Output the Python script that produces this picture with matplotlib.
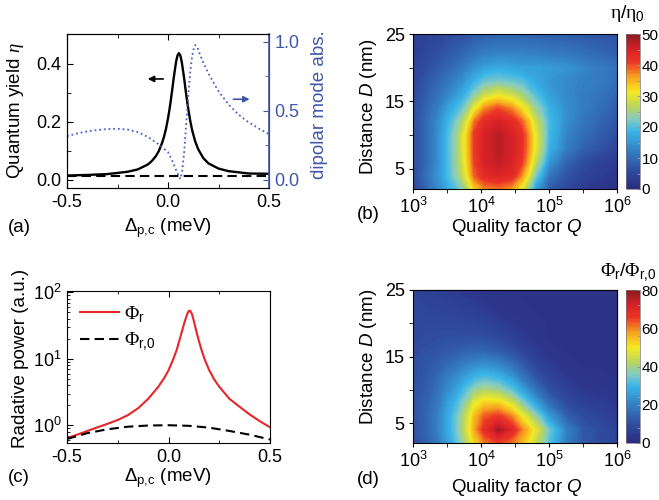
import matplotlib
matplotlib.use("Agg")
import matplotlib.pyplot as plt
import numpy as np
from matplotlib.colors import LinearSegmentedColormap
from matplotlib.ticker import FixedLocator, NullFormatter, LogLocator

plt.rcParams["font.family"] = ["Liberation Sans", "DejaVu Sans"]
plt.rcParams["mathtext.fontset"] = "custom"
plt.rcParams["mathtext.rm"] = "Liberation Sans"
plt.rcParams["mathtext.it"] = "Liberation Sans:italic"
plt.rcParams["mathtext.cal"] = "Liberation Serif"
plt.rcParams["mathtext.tt"] = "Liberation Serif:italic"

# ---------- (a) quantum yield vs detuning ----------
eta_x = [-0.5, -0.4, -0.3, -0.2, -0.15, -0.1, -0.08, -0.06, -0.045, -0.03, -0.02, -0.01,
         0.0, 0.005, 0.01, 0.015, 0.02, 0.03, 0.04, 0.047, 0.054, 0.061, 0.068, 0.078,
         0.083, 0.09, 0.095, 0.1, 0.11, 0.12, 0.135, 0.15, 0.175, 0.2, 0.25, 0.3, 0.4, 0.5]
eta = [0.015, 0.017, 0.020, 0.028, 0.036, 0.053, 0.065, 0.082, 0.100, 0.126, 0.148, 0.176,
       0.212, 0.233, 0.255, 0.280, 0.306, 0.360, 0.407, 0.429, 0.437, 0.429, 0.407, 0.360,
       0.333, 0.295, 0.270, 0.246, 0.204, 0.170, 0.132, 0.105, 0.075, 0.057, 0.039, 0.030,
       0.022, 0.021]
eta0_x = [-0.5, -0.25, 0.0, 0.25, 0.5]
eta0 = [0.012, 0.012, 0.012, 0.012, 0.012]
abs_x = [-0.5, -0.45, -0.4, -0.35, -0.3, -0.25, -0.2, -0.15, -0.1, -0.05, 0.0, 0.02, 0.04,
         0.055, 0.062, 0.07, 0.08, 0.09, 0.1, 0.11, 0.12, 0.13, 0.135, 0.145, 0.16, 0.18,
         0.2, 0.25, 0.3, 0.35, 0.4, 0.45, 0.5]
dip_abs = [0.315, 0.335, 0.35, 0.36, 0.367, 0.369, 0.363, 0.345, 0.31, 0.26, 0.2, 0.14, 0.07,
           0.02, 0.005, 0.06, 0.2, 0.4, 0.6, 0.78, 0.9, 0.965, 0.975, 0.96, 0.9, 0.83,
           0.77, 0.64, 0.545, 0.47, 0.415, 0.37, 0.33]

# ---------- (c) radiative power ----------
phi_x = [-0.5, -0.45, -0.4, -0.35, -0.3, -0.25, -0.2, -0.15, -0.1, -0.05, -0.02, 0.0, 0.02,
         0.04, 0.055, 0.07, 0.08, 0.09, 0.095, 0.1, 0.105, 0.11, 0.115, 0.12, 0.13, 0.14,
         0.15, 0.163, 0.18, 0.2, 0.225, 0.25, 0.3, 0.35, 0.4, 0.45, 0.5]
phi_r = [0.64, 0.72, 0.82, 0.93, 1.05, 1.2, 1.42, 1.8, 2.5, 3.8, 5.2, 6.7, 9.3,
         13.5, 19.5, 28.5, 36.5, 45, 49.5, 52.5, 53, 51, 47.5, 42.5, 32, 24,
         18.5, 13.5, 9.5, 6.8, 4.9, 3.8, 2.5, 1.9, 1.45, 1.15, 0.93]
phi0_x = [-0.5, -0.4, -0.3, -0.2, -0.1, 0.0, 0.1, 0.2, 0.3, 0.4, 0.5]
phi_r0 = [0.62, 0.76, 0.87, 0.95, 0.99, 1.0, 0.98, 0.92, 0.82, 0.72, 0.61]

# ---------- (b), (d) maps over log10(Q) and D ----------
logQ = [3.0, 3.25, 3.5, 3.75, 3.9, 4.05, 4.25, 4.45, 4.6, 4.8, 5.0, 5.25, 5.5, 5.75, 6.0]
dist = [2, 4, 6, 8, 10, 12, 14, 16, 18, 20, 22, 25]
eta_ratio = [
    [5, 11, 17, 24, 33, 37, 38, 36, 30, 16, 8, 5, 3, 2, 1.5],
    [6, 12, 19, 28.5, 39, 43, 44.5, 43, 37, 22, 11, 7, 4.5, 3, 2],
    [6, 11, 19, 30, 40.5, 45, 46.5, 45, 41, 27, 15, 9, 6, 4, 3],
    [6, 11, 19, 30.5, 41, 45, 47, 45, 42, 30, 18, 12, 8.5, 6.5, 5],
    [6, 11, 19, 30.5, 41, 45, 47, 45, 42, 30, 19, 13, 10, 8, 6],
    [6, 11, 18, 27, 38, 43, 45, 43, 39, 28, 19, 14, 11, 9, 7],
    [6, 10, 16, 22, 30, 37, 40, 37, 32, 24, 18, 14, 12, 10, 8],
    [5.5, 9, 13, 18, 23, 27.5, 30, 28, 25, 20, 16, 13.5, 12, 11, 9],
    [5, 8, 11, 15, 18, 21, 22, 21, 20, 17, 15, 13.5, 12.5, 12, 10],
    [4.5, 6.5, 9, 12, 14.5, 16, 17, 16.5, 16, 16, 15.5, 15, 13, 12, 10.5],
    [4, 5.5, 7.5, 9.5, 11, 12.5, 13, 13, 13, 12.5, 12, 11.5, 10.5, 9.5, 8.5],
    [3.5, 4.5, 5.5, 6.5, 7.5, 8, 8.5, 8.5, 8.5, 8.5, 8, 8, 7.5, 7, 6.5],
]
phi_ratio = [
    [10, 15, 25, 40, 52, 60, 65, 61, 55, 44, 32, 19, 12, 9, 7],
    [11, 16, 27, 43, 57, 68, 77, 70, 60, 48, 34, 20, 12, 9, 7],
    [11, 16, 27, 42, 55, 63, 66, 60, 50, 38, 25, 14, 9, 7, 5],
    [11, 15, 25, 37, 48, 53, 53, 46, 37, 26, 16, 9, 6, 5, 4],
    [10, 14, 22, 31, 38, 41, 39, 33, 26, 17, 10, 6, 4, 3.5, 3],
    [10, 13, 19, 25, 29, 31, 29, 24, 18, 11, 7, 4, 3, 3, 2.5],
    [10, 12, 15, 19, 21, 22, 20, 16, 12, 7, 4.5, 3, 2.5, 2.5, 2.5],
    [9.5, 10.5, 12, 13.5, 14, 14, 12.5, 10, 7, 4.5, 3, 2.5, 2.5, 2.5, 2.5],
    [9, 9.5, 10, 10, 10, 9.5, 8, 6, 4.5, 3.5, 2.5, 2.5, 2.5, 2.5, 2.5],
    [8.5, 8.5, 8.5, 8, 7.5, 7, 5.5, 4, 3.5, 3, 2.5, 2.5, 2.5, 2.5, 2.5],
    [8, 7.5, 7, 6, 5.5, 4.5, 3.5, 3, 3, 2.5, 2.5, 2.5, 2.5, 2.5, 2.5],
    [7, 6, 5, 4, 3.5, 3, 3, 2.5, 2.5, 2.5, 2.5, 2.5, 2.5, 2.5, 2.5],
]

BLUE = "#3f57a8"
cmap = LinearSegmentedColormap.from_list("origin_rainbow", [
    (0.0, "#2b2b80"), (0.12, "#2f4da0"), (0.25, "#3480c5"), (0.37, "#38b5e8"),
    (0.45, "#84cbc3"), (0.53, "#b8d660"), (0.625, "#f5ea22"), (0.72, "#f7a51e"),
    (0.82, "#ec3626"), (0.9, "#d92127"), (1.0, "#8a1b1e")])

W, H = 659, 500
fig = plt.figure(figsize=(W / 100, H / 100), dpi=100)

TICK = 13
LABEL = 13.5


def box(l, t, r, b):
    return [l / W, 1 - b / H, (r - l) / W, (b - t) / H]


def ftext(x, y, s, **kw):
    kw.setdefault("ha", "center")
    kw.setdefault("va", "center")
    kw.setdefault("fontsize", LABEL)
    fig.text(x / W, 1 - y / H, s, **kw)


# (a)
ax = fig.add_axes(box(67, 34, 269, 188))
ax.plot(eta_x, eta, color="k", lw=1.7)
ax.plot(eta0_x, eta0, color="k", lw=1.5, ls=(0, (4.5, 2.5)))
ax.set_xlim(-0.5, 0.5)
ax.set_ylim(-0.028, 0.503)
ax.set_xticks([-0.5, 0.0, 0.5])
ax.set_xticks([-0.25, 0.25], minor=True)
ax.set_yticks([0.0, 0.2, 0.4])
ax.set_yticks([0.1, 0.3], minor=True)
ax.tick_params(which="both", direction="in", top=True, labelsize=TICK, pad=4)
ax.tick_params(which="major", length=4)
ax.tick_params(which="minor", length=3)
ax.annotate("", xy=(-0.114, 0.348), xytext=(-0.01, 0.348),
            arrowprops=dict(arrowstyle="-|>", color="k", lw=1.2, mutation_scale=9))
ax.annotate("", xy=(0.418, 0.278), xytext=(0.31, 0.278),
            arrowprops=dict(arrowstyle="-|>", color=BLUE, lw=1.2, mutation_scale=9))
ax2 = ax.twinx()
ax2.plot(abs_x, dip_abs, color="#4763c4", lw=1.3, ls=(0, (1, 1.6)))
ax2.set_ylim(-0.06, 1.055)
ax2.set_yticks([0.0, 0.5, 1.0])
ax2.set_yticks([0.25, 0.75], minor=True)
ax2.tick_params(which="both", direction="in", colors=BLUE, labelsize=TICK, pad=4)
ax2.tick_params(which="major", length=4)
ax2.tick_params(which="minor", length=3)
ax2.spines["right"].set_color(BLUE)
ax2.spines["right"].set_linewidth(1.2)
ax2.yaxis.set_major_formatter(plt.FormatStrFormatter("%.1f"))
ax.yaxis.set_major_formatter(plt.FormatStrFormatter("%.1f"))
ax.xaxis.set_major_formatter(plt.FormatStrFormatter("%.1f"))
ftext(15.5, 111, r"Quantum yield $\mathtt{\eta}$", rotation=90)
ftext(319, 105, "dipolar mode abs.", rotation=90, color=BLUE)
ftext(168, 228, r"$\Delta_{\mathrm{p{,}c}}$ (meV)")
ftext(19, 228, "(a)")

# (c)
ax = fig.add_axes(box(67, 291, 270, 443))
ax.plot(phi_x, phi_r, color="#e8262a", lw=1.5, label=r"$\mathcal{\Phi}_{\mathrm{r}}$")
ax.plot(phi0_x, phi_r0, color="k", lw=1.5, ls=(0, (4.5, 2.5)),
        label=r"$\mathcal{\Phi}_{\mathrm{r{,}0}}$")
ax.set_yscale("log")
ax.set_xlim(-0.5, 0.5)
ax.set_ylim(0.54, 105)
ax.set_xticks([-0.5, 0.0, 0.5])
ax.set_xticks([-0.25, 0.25], minor=True)
ax.xaxis.set_major_formatter(plt.FormatStrFormatter("%.1f"))
ax.yaxis.set_major_locator(LogLocator(base=10, numticks=5))
ax.yaxis.set_minor_locator(LogLocator(base=10, subs=np.arange(2, 10), numticks=20))
ax.yaxis.set_minor_formatter(NullFormatter())
ax.tick_params(which="both", direction="in", top=True, labelsize=TICK, pad=4)
ax.tick_params(which="major", length=4)
ax.tick_params(which="minor", length=2.5)
ax.legend(loc="upper left", frameon=False, fontsize=14, handlelength=2.0,
          borderaxespad=0.25, labelspacing=0.35, handletextpad=0.3)
ftext(21, 358, "Radative power (a.u.)", rotation=90)
ftext(168, 478, r"$\Delta_{\mathrm{p{,}c}}$ (meV)")
ftext(19, 478, "(c)")

# (b) and (d)
Q = 10 ** np.array(logQ)


def heatmap(ax_box, cax_box, data, vmax, cticks, ctitle, ctitle_y, inner_ticks):
    ax = fig.add_axes(box(*ax_box))
    cs = ax.contourf(Q, dist, np.array(data), levels=np.linspace(0, vmax, 121),
                     cmap=cmap, vmin=0, vmax=vmax)
    ax.set_xscale("log")
    ax.set_xlim(1e3, 1e6)
    ax.set_ylim(2, 25)
    ax.set_xticks([1e3, 1e4, 1e5, 1e6])
    ax.xaxis.set_minor_locator(FixedLocator([10 ** 3.5, 10 ** 4.5, 10 ** 5.5]))
    ax.xaxis.set_minor_formatter(NullFormatter())
    ax.set_yticks([5, 15, 25])
    ax.set_yticks([10, 20], minor=True)
    ax.tick_params(which="both", direction="out", labelsize=TICK, pad=3, length=3)
    for s in ax.spines.values():
        s.set_linewidth(0.8)
    if inner_ticks:
        top = ax.secondary_xaxis("top")
        top.set_xticks([10 ** 3.5, 1e4, 10 ** 4.5, 1e5, 10 ** 5.5])
        top.tick_params(direction="in", length=3, labeltop=False)
        top.xaxis.set_minor_locator(FixedLocator([]))
        right = ax.secondary_yaxis("right")
        right.set_yticks([5, 10, 15, 20])
        right.tick_params(direction="in", length=3, labelright=False)
    cax = fig.add_axes(box(*cax_box))
    cb = fig.colorbar(cs, cax=cax, ticks=cticks)
    cb.outline.set_linewidth(0.5)
    cb.outline.set_edgecolor("#777777")
    cax.yaxis.set_minor_locator(FixedLocator(np.arange(vmax / 10, vmax, vmax / 5)))
    cax.tick_params(which="both", direction="in", length=2.5, color="#999999",
                    labelsize=11, pad=1)
    ftext(628, ctitle_y, ctitle, fontsize=14)
    return ax


axb = heatmap((413, 34, 617, 189), (626, 34, 640, 189), eta_ratio, 50,
              [0, 10, 20, 30, 40, 50],
              r"$\mathcal{\eta}/\mathcal{\eta}_{\mathrm{0}}$", 14, False)
ftext(368, 107, r"Distance $D$ (nm)", rotation=90)
ftext(517, 227, r"Quality factor $Q$")
ftext(368, 215, "(b)")

axd = heatmap((413, 290, 617, 443), (626, 290, 640, 443), phi_ratio, 80,
              [0, 20, 40, 60, 80],
              r"$\mathcal{\Phi}_{\mathrm{r}}/\mathcal{\Phi}_{\mathrm{r{,}0}}$", 272, True)
ftext(368, 357, r"Distance $D$ (nm)", rotation=90)
ftext(517, 487, r"Quality factor $Q$")
ftext(368, 480, "(d)")

fig.savefig("out.png", dpi=100)
